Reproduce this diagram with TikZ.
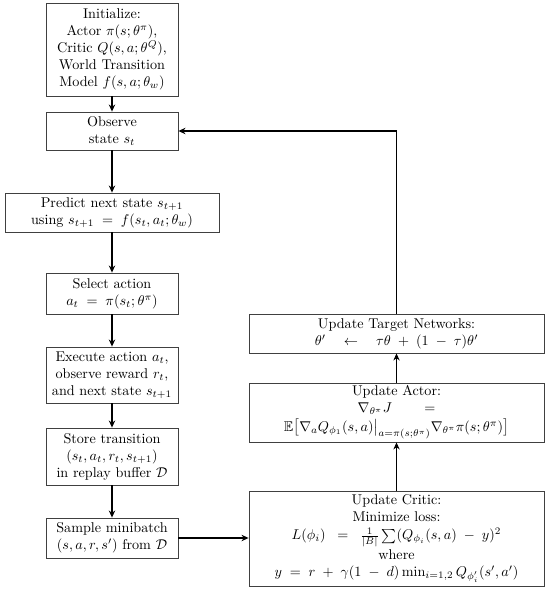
\documentclass[tikz,border=0pt]{standalone}
\usepackage{amsmath,amssymb}
\usetikzlibrary{arrows.meta}
\def\u{0.706pt}
\begin{document}
\begin{tikzpicture}[x=0.706pt,y=-0.706pt,
  box/.style={draw=black!75,line width=0.6pt,align=center,inner sep=1pt,font=\normalsize},
  arr/.style={line width=0.75pt,-{Stealth[length=5pt,width=4.5pt]}}]
\useasboundingbox (0,0) rectangle (550,591);
\node[box,minimum width=132*\u,minimum height=93*\u] (init) at (112,49.5)
  {Initialize:\\ Actor $\pi(s;\theta^\pi)$,\\ Critic $Q(s,a;\theta^Q)$,\\ World Transition\\ Model $f(s,a;\theta_w)$};
\node[box,minimum width=132*\u,minimum height=38*\u] (obs) at (112,131)
  {Observe\\ state $s_t$};
\node[box,minimum width=214*\u,minimum height=39*\u] (pred) at (112,212.5)
  {Predict next state $s_{t+1}$\\ using $s_{t+1} \;=\; f(s_t,a_t;\theta_w)$};
\node[box,minimum width=132*\u,minimum height=41*\u] (sel) at (112,293.5)
  {Select action\\ $a_t \;=\; \pi(s_t;\theta^\pi)$};
\node[box,minimum width=132*\u,minimum height=56*\u] (exe) at (112,375)
  {Execute action $a_t$,\\ observe reward $r_t$,\\ and next state $s_{t+1}$};
\node[box,minimum width=132*\u,minimum height=57*\u] (store) at (112,456.5)
  {Store transition\\ $(s_t,a_t,r_t,s_{t+1})$\\ in replay buffer $\mathcal{D}$};
\node[box,minimum width=132*\u,minimum height=40*\u] (samp) at (112,538)
  {Sample minibatch\\ $(s,a,r,s')$ from $\mathcal{D}$};
\node[box,minimum width=295*\u,minimum height=39*\u] (targ) at (396.5,333.5)
  {Update Target Networks:\\ $\theta' \quad\leftarrow\quad \tau\theta \;+\; (1 \;-\; \tau)\theta'$};
\node[box,minimum width=295*\u,minimum height=59*\u] (act) at (396.5,412.5)
  {Update Actor:\\ $\nabla_{\theta^\pi} J \qquad =$\\[1pt]
   $\mathbb{E}\bigl[\nabla_a Q_{\phi_1}(s,a)\bigr|_{a=\pi(s;\theta^\pi)}\nabla_{\theta^\pi}\pi(s;\theta^\pi)\bigr]$};
\node[box,minimum width=295*\u,minimum height=95*\u] (crit) at (396.5,538.5)
  {Update Critic:\\ Minimize loss:\\[1pt] $L(\phi_i) \;\;=\;\; \frac{1}{|B|}\sum(Q_{\phi_i}(s,a) \;-\; y)^2$\\[1pt] where\\
   $y \;=\; r \;+\; \gamma(1 \;-\; d)\min_{i=1,2} Q_{\phi'_i}(s',a')$};
\draw[arr] (init) -- (obs);
\draw[arr] (obs) -- (pred);
\draw[arr] (pred) -- (sel);
\draw[arr] (sel) -- (exe);
\draw[arr] (exe) -- (store);
\draw[arr] (store) -- (samp);
\draw[arr] (samp.east) -- (samp.east -| crit.west);
\draw[arr] (crit) -- (act);
\draw[arr] (act) -- (targ);
\draw[arr] (targ.north) |- (obs.east);
\end{tikzpicture}
\end{document}
